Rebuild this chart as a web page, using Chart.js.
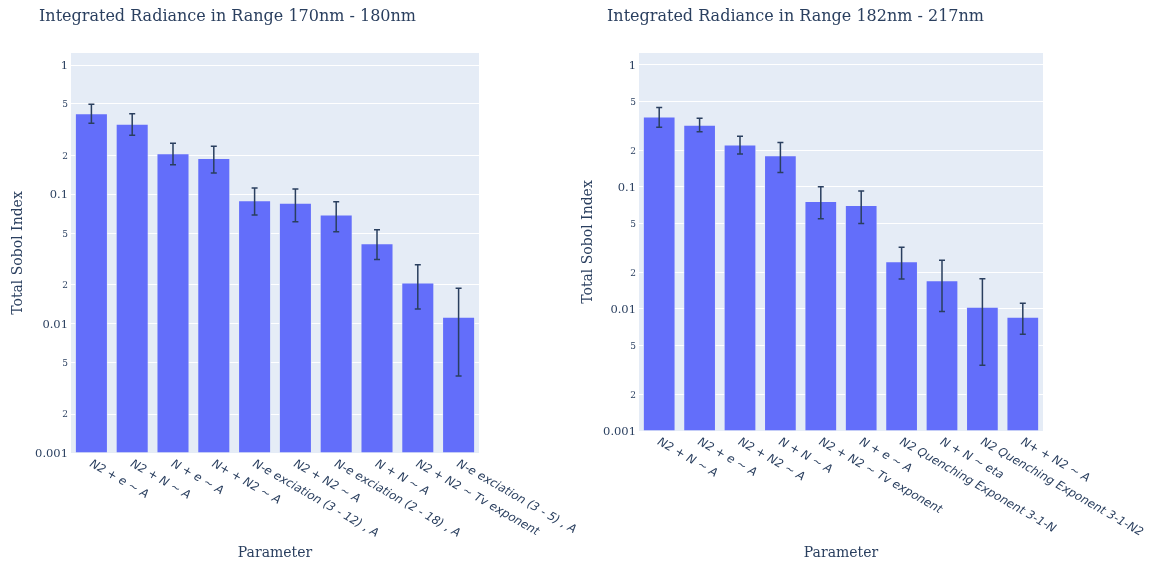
<!DOCTYPE html>
<html>
<head>
<meta charset="utf-8">
<script src="https://cdn.jsdelivr.net/npm/chart.js@4/dist/chart.umd.min.js"></script>
<style>
  html, body { margin: 0; padding: 0; background: #ffffff; }
  body { width: 1151px; height: 563px; position: relative; overflow: hidden; }
  .panel { position: absolute; top: 0; height: 563px; }
  #panelA { left: 0; width: 600px; }
  #panelB { left: 575px; width: 576px; }
</style>
</head>
<body>
<div class="panel" id="panelA"><canvas id="chartA" width="600" height="563"></canvas></div>
<div class="panel" id="panelB"><canvas id="chartB" width="576" height="563"></canvas></div>
<script>
// Sobol sensitivity results, one set per wavelength band
const titleA = 'Integrated Radiance in Range 170nm - 180nm';
const categoriesA = [
  'N2 + e ~ A', 'N2 + N ~ A', 'N + e ~ A', 'N+ + N2 ~ A',
  'N-e exciation (3 - 12) , A', 'N2 + N2 ~ A', 'N-e exciation (2 - 18) , A',
  'N + N ~ A', 'N2 + N2 ~ Tv exponent', 'N-e exciation (3 - 5) , A'
];
const valuesA  = [0.423, 0.350, 0.2075, 0.190, 0.0898, 0.0857, 0.0695, 0.0418, 0.0207, 0.01125];
const errHighA = [0.497, 0.420, 0.248, 0.235, 0.112, 0.110, 0.0877, 0.0532, 0.0286, 0.01875];
const errLowA  = [0.354, 0.286, 0.1695, 0.146, 0.0692, 0.0614, 0.0514, 0.0314, 0.0130, 0.00394];

const titleB = 'Integrated Radiance in Range 182nm - 217nm';
const categoriesB = [
  'N2 + N ~ A', 'N2 + e ~ A', 'N2 + N2 ~ A', 'N + N ~ A',
  'N2 + N2 ~ Tv exponent', 'N + e ~ A', 'N2 Quenching Exponent 3-1-N',
  'N + N ~ eta', 'N2 Quenching Exponent 3-1-N2', 'N+ + N2 ~ A'
];
const valuesB  = [0.377, 0.322, 0.222, 0.1815, 0.0766, 0.0710, 0.0245, 0.0171, 0.0104, 0.00861];
const errHighB = [0.449, 0.365, 0.261, 0.232, 0.1004, 0.0925, 0.0321, 0.0251, 0.01766, 0.01115];
const errLowB  = [0.308, 0.284, 0.186, 0.1315, 0.0548, 0.0502, 0.0176, 0.00952, 0.00346, 0.00621];

// Log axis ticks: decades get full labels, 2 and 5 get short labels
const yTickValues = [0.001, 0.002, 0.005, 0.01, 0.02, 0.05, 0.1, 0.2, 0.5, 1];
const yMajorLabels = { 0.001: '0.001', 0.01: '0.01', 0.1: '0.1', 1: '1' };

const INK = '#2a3f5f';
const PLOT_BG = '#e5ecf6';
const BAR = '#636efa';

function isMajor(v) { return yMajorLabels[v] !== undefined; }

// Fills the plotting area, draws the panel title, the error bars and the slanted category labels
const decorations = {
  id: 'decorations',
  beforeDraw(chart) {
    const { ctx, chartArea } = chart;
    ctx.save();
    ctx.fillStyle = PLOT_BG;
    ctx.fillRect(chartArea.left, chartArea.top, chartArea.right - chartArea.left, chartArea.bottom - chartArea.top);
    ctx.restore();
  },
  afterDatasetsDraw(chart) {
    const { ctx } = chart;
    const yScale = chart.scales.y;
    chart.data.datasets.forEach((ds, di) => {
      const meta = chart.getDatasetMeta(di);
      ctx.save();
      ctx.strokeStyle = INK;
      ctx.lineWidth = 1.5;
      meta.data.forEach((bar, i) => {
        const x = bar.x;
        const yHi = yScale.getPixelForValue(ds.errHigh[i]);
        const yLo = yScale.getPixelForValue(ds.errLow[i]);
        const cap = 3;
        ctx.beginPath();
        ctx.moveTo(x, yHi); ctx.lineTo(x, yLo);
        ctx.moveTo(x - cap, yHi); ctx.lineTo(x + cap, yHi);
        ctx.moveTo(x - cap, yLo); ctx.lineTo(x + cap, yLo);
        ctx.stroke();
      });
      ctx.restore();
    });
  },
  afterDraw(chart) {
    const { ctx, chartArea } = chart;
    const opts = chart.options.plugins.decorations;
    ctx.save();
    ctx.fillStyle = INK;
    ctx.font = '16px "DejaVu Serif"';
    ctx.textBaseline = 'middle';
    ctx.textAlign = 'left';
    ctx.fillText(opts.title, opts.titleX, 17);

    const xScale = chart.scales.x;
    ctx.font = 'italic 11.7px "DejaVu Sans"';
    ctx.textBaseline = 'middle';
    chart.data.labels.forEach((label, i) => {
      const x = xScale.getPixelForTick(i);
      ctx.save();
      ctx.translate(x - 1, chartArea.bottom + 10);
      ctx.rotate(Math.PI / 6);
      ctx.fillText(label, 0, 0);
      ctx.restore();
    });
    ctx.restore();
  }
};

function makeChart(canvasId, cfg) {
  return new Chart(document.getElementById(canvasId), {
    type: 'bar',
    data: {
      labels: cfg.categories,
      datasets: [{
        data: cfg.values,
        errHigh: cfg.errHigh,
        errLow: cfg.errLow,
        backgroundColor: BAR,
        borderColor: PLOT_BG,
        borderWidth: 0.8,
        borderSkipped: false,
        categoryPercentage: 1.0,
        barPercentage: 0.8
      }]
    },
    options: {
      responsive: false,
      animation: false,
      layout: { padding: { top: 53, right: cfg.padRight, bottom: 0, left: 0 } },
      plugins: {
        legend: { display: false },
        title: { display: false },
        tooltip: { enabled: false },
        decorations: { title: cfg.title, titleX: cfg.titleX }
      },
      scales: {
        x: {
          type: 'category',
          grid: { display: false, drawTicks: false },
          border: { display: false },
          ticks: { display: false },
          title: {
            display: true,
            text: 'Parameter',
            color: INK,
            font: { family: 'DejaVu Serif', size: 14 },
            padding: { top: 0, bottom: 1 }
          },
          afterFit(scale) { scale.height = cfg.xAxisHeight; }
        },
        y: {
          type: 'logarithmic',
          min: 0.001,
          max: cfg.yMax,
          bounds: 'data',
          grid: { color: '#ffffff', lineWidth: 1, drawTicks: false },
          border: { display: false },
          afterBuildTicks(scale) {
            scale.ticks = yTickValues.map(v => ({ value: v, major: isMajor(v) }));
          },
          ticks: {
            autoSkip: false,
            padding: 3,
            labelOffset: 1,
            color: INK,
            font: (ctx) => {
              const v = ctx.tick ? ctx.tick.value : 1;
              return isMajor(v)
                ? { family: 'DejaVu Serif', size: 11.5 }
                : { family: 'DejaVu Serif', size: 9 };
            },
            callback: (v) => isMajor(v) ? yMajorLabels[v] : String(Math.round(v / Math.pow(10, Math.floor(Math.log10(v) + 1e-9))))
          },
          title: {
            display: true,
            text: 'Total Sobol Index',
            color: INK,
            font: { family: 'DejaVu Serif', size: 14 },
            padding: { top: cfg.yTitlePad, bottom: 0 }
          },
          afterFit(scale) { scale.width = cfg.yAxisWidth; }
        }
      }
    },
    plugins: [decorations]
  });
}

makeChart('chartA', {
  title: titleA, titleX: 39,
  categories: categoriesA, values: valuesA, errHigh: errHighA, errLow: errLowA,
  yMax: Math.pow(10, 0.093),
  padRight: 121, yAxisWidth: 71, xAxisHeight: 110, yTitlePad: 10
});

makeChart('chartB', {
  title: titleB, titleX: 32,
  categories: categoriesB, values: valuesB, errHigh: errHighB, errLow: errLowB,
  yMax: Math.pow(10, 0.098),
  padRight: 108, yAxisWidth: 64, xAxisHeight: 132, yTitlePad: 5
});
</script>
</body>
</html>
